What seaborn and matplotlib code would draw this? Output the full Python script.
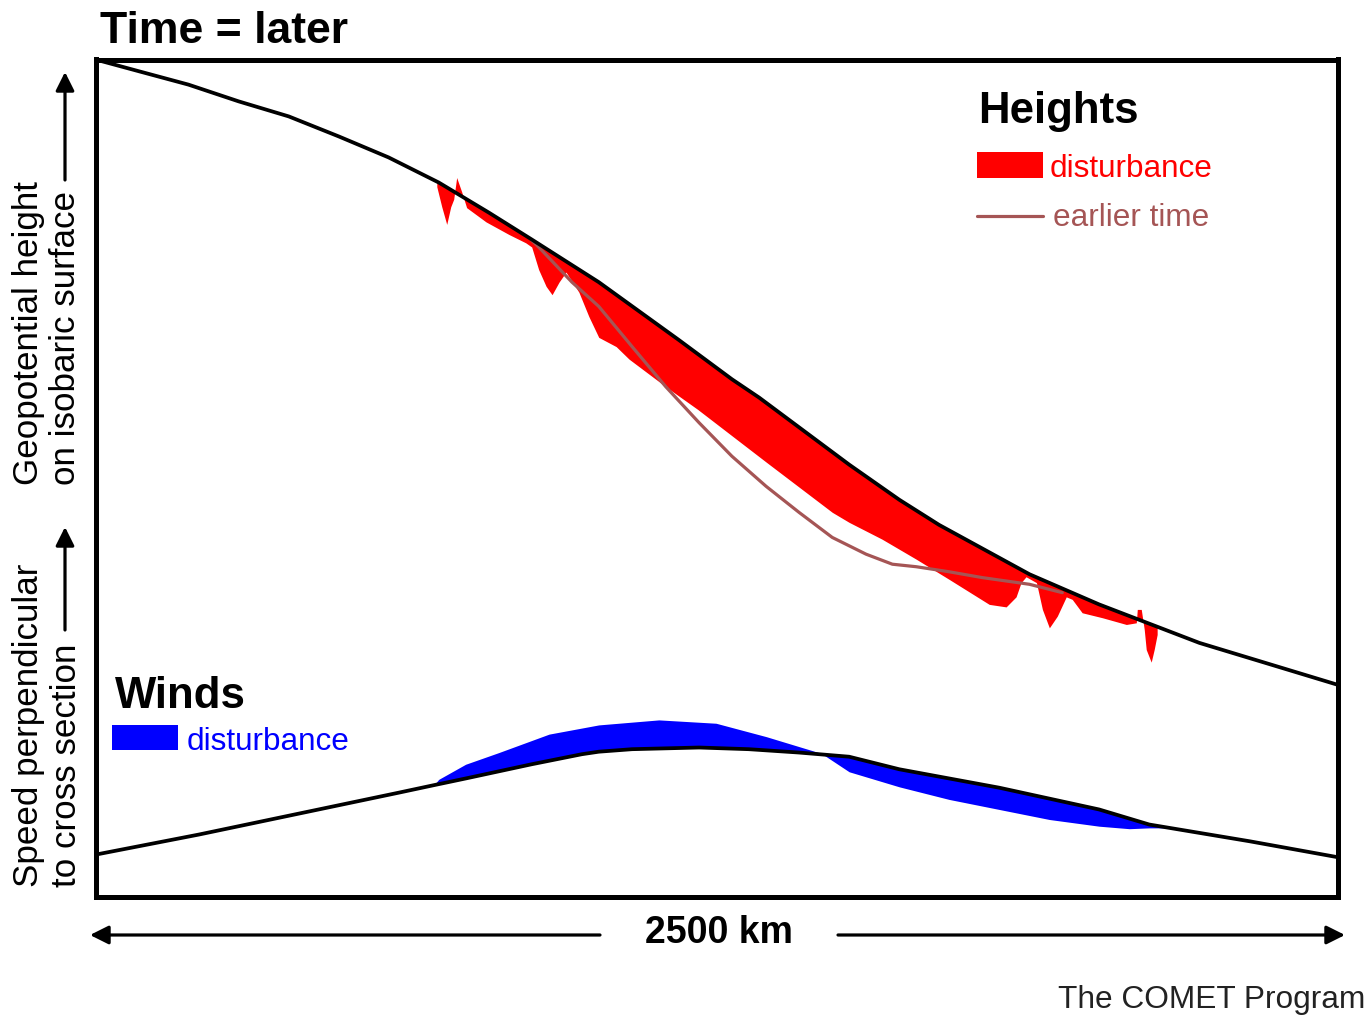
import numpy as np
import matplotlib
matplotlib.use("Agg")
import matplotlib.pyplot as plt
from matplotlib.patches import Rectangle, FancyArrowPatch
from matplotlib.lines import Line2D
import seaborn as sns

# distanza lungo la sezione (km) e altezza in unita' arbitrarie (0-100)
height_km = [0, 87, 187, 288, 389, 490, 590, 691, 792, 878, 1013, 1174, 1281, 1336, 1517,
             1618, 1698, 1880, 2020, 2222, 2500]
height_now = [100.0, 98.6, 97.0, 95.0, 93.2, 90.8, 88.3, 85.3, 81.7, 78.5, 73.4, 66.5, 61.8,
              59.6, 51.6, 47.4, 44.4, 38.5, 34.9, 30.3, 25.3]

earlier_km = [878, 892, 959, 1013, 1080, 1148, 1215, 1281, 1350, 1416, 1483, 1551, 1604,
              1652, 1718, 1785, 1880, 1946]
earlier_h = [78.4, 77.6, 73.4, 70.5, 65.7, 60.9, 56.6, 52.6, 49.0, 45.9, 42.9, 40.9, 39.7,
             39.4, 38.8, 38.1, 37.3, 36.3]

# bordo inferiore della perturbazione (rosso)
dist_km = [687, 697, 707, 715, 721, 727, 737, 747, 786, 832, 866, 878, 892, 907, 919, 933,
           947, 973, 993, 1013, 1048, 1074, 1148, 1212, 1350, 1483, 1517, 1583, 1652, 1718,
           1799, 1833, 1853, 1863, 1873, 1894, 1906, 1920, 1936, 1954, 1966, 1986, 2027,
           2075, 2095, 2097, 2105, 2111, 2115, 2125, 2131, 2137]
dist_h = [84.8, 82.4, 80.3, 82.4, 83.3, 85.9, 84.2, 82.3, 80.6, 79.1, 78.1, 77.6, 74.9, 72.9,
          71.9, 73.4, 74.6, 72.2, 69.3, 66.8, 65.7, 64.2, 60.9, 58.2, 51.9, 45.9, 44.7, 42.7,
          40.3, 37.9, 34.9, 34.6, 35.8, 37.5, 38.2, 37.5, 34.3, 32.1, 33.5, 35.8, 35.5, 33.9,
          33.3, 32.5, 32.7, 34.3, 34.3, 31.9, 29.5, 28.0, 29.5, 31.3]

# venti perpendicolari alla sezione
wind_km = [0, 208, 409, 610, 681, 745, 878, 979, 1013, 1080, 1215, 1315, 1416, 1517, 1618,
           1819, 2020, 2121, 2323, 2500]
wind_now = [5.0, 7.4, 9.9, 12.4, 13.3, 14.1, 15.8, 17.0, 17.3, 17.6, 17.8, 17.6, 17.2, 16.7,
            15.2, 13.0, 10.4, 8.6, 6.6, 4.7]

wdist_km = [681, 691, 745, 812, 913, 1013, 1134, 1249, 1350, 1461, 1517, 1618, 1718, 1819,
            1920, 2020, 2081, 2121, 2162]
wdist_v = [13.3, 14.0, 15.8, 17.2, 19.4, 20.5, 21.1, 20.7, 19.1, 17.1, 14.9, 13.1, 11.6, 10.4,
           9.2, 8.4, 8.1, 8.2, 8.2]

RED = "#ff0000"
BLUE = "#0000ff"
BROWN = "#a55555"

sns.set_style("white")
plt.rcParams['font.family'] = ['Liberation Sans', 'DejaVu Sans']
plt.rcParams['text.color'] = 'black'

fig = plt.figure(figsize=(13.7, 10.16), dpi=100)
ax = fig.add_axes([95.5 / 1370, 1 - 896.5 / 1016, 1242 / 1370, 837 / 1016])

top = np.interp(dist_km, height_km, height_now)
ax.fill_between(dist_km, top, dist_h, color=RED, lw=0, zorder=1)
wtop = np.interp(wdist_km, wind_km, wind_now)
ax.fill_between(wdist_km, wtop, wdist_v, color=BLUE, lw=0, zorder=1)

sns.lineplot(x=earlier_km, y=earlier_h, ax=ax, color=BROWN, lw=2.3, zorder=2)
sns.lineplot(x=height_km, y=height_now, ax=ax, color="black", lw=2.7, zorder=3)
sns.lineplot(x=wind_km, y=wind_now, ax=ax, color="black", lw=2.7, zorder=3)

ax.set_xlim(0, 2500)
ax.set_ylim(0, 100)
ax.set_xticks([])
ax.set_yticks([])
ax.set_xlabel("")
ax.set_ylabel("")
for s in ax.spines.values():
    s.set_visible(True)
    s.set_color("black")
    s.set_linewidth(3.6)

# titolo e legende
fig.text(100 / 1370, 1 - 43 / 1016, "Time = later", fontsize=32, fontweight="bold", va="baseline")
fig.text(978 / 1370, 1 - 123 / 1016, "Heights", fontsize=31.5, fontweight="bold", va="baseline")
fig.patches.append(Rectangle((977 / 1370, 1 - 178 / 1016), 66 / 1370, 26 / 1016,
                             transform=fig.transFigure, color=RED, lw=0))
fig.text(1050 / 1370, 1 - 177 / 1016, "disturbance", fontsize=22.7, color=RED, va="baseline")
fig.lines.append(Line2D([977 / 1370, 1043 / 1370], [1 - 216 / 1016] * 2,
                        transform=fig.transFigure, color=BROWN, lw=2.3))
fig.text(1053 / 1370, 1 - 226 / 1016, "earlier time", fontsize=22.7, color=BROWN, va="baseline")

fig.text(115 / 1370, 1 - 708 / 1016, "Winds", fontsize=31.5, fontweight="bold", va="baseline")
fig.patches.append(Rectangle((112 / 1370, 1 - 750 / 1016), 66 / 1370, 25 / 1016,
                             transform=fig.transFigure, color=BLUE, lw=0))
fig.text(187 / 1370, 1 - 750 / 1016, "disturbance", fontsize=22.7, color=BLUE, va="baseline")

# etichette asse y ruotate con frecce
fig.text(29 / 1370, 1 - 485 / 1016, "Geopotential height", fontsize=25.2, rotation=90,
         ha="center", va="bottom")
fig.text(66 / 1370, 1 - 485 / 1016, "on isobaric surface", fontsize=25.2, rotation=90,
         ha="center", va="bottom")
fig.text(29 / 1370, 1 - 887 / 1016, "Speed perpendicular", fontsize=25.2, rotation=90,
         ha="center", va="bottom")
fig.text(66 / 1370, 1 - 887 / 1016, "to cross section", fontsize=25.2, rotation=90,
         ha="center", va="bottom")

arrow = dict(arrowstyle="-|>", color="black", lw=2.3, mutation_scale=28, shrinkA=0, shrinkB=0)
fig.add_artist(FancyArrowPatch((65 / 1370, 1 - 180 / 1016), (65 / 1370, 1 - 72 / 1016),
                               transform=fig.transFigure, **arrow))
fig.add_artist(FancyArrowPatch((65 / 1370, 1 - 630 / 1016), (65 / 1370, 1 - 527 / 1016),
                               transform=fig.transFigure, **arrow))
fig.add_artist(FancyArrowPatch((600 / 1370, 1 - 935 / 1016), (90 / 1370, 1 - 935 / 1016),
                               transform=fig.transFigure, **arrow))
fig.add_artist(FancyArrowPatch((838 / 1370, 1 - 935 / 1016), (1345 / 1370, 1 - 935 / 1016),
                               transform=fig.transFigure, **arrow))

fig.text(719 / 1370, 1 - 933 / 1016, "2500 km", fontsize=27, fontweight="bold", ha="center", va="center")
fig.text(1365 / 1370, 1 - 1008 / 1016, "The COMET Program", fontsize=22.8, color="#222222",
         ha="right", va="baseline")

fig.savefig("out.png", dpi=100, facecolor="white")
